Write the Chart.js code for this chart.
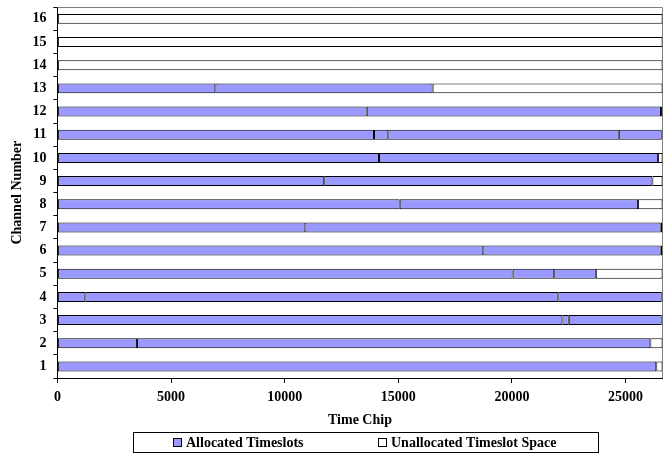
<!DOCTYPE html>
<html>
<head>
<meta charset="utf-8">
<script src="https://cdn.jsdelivr.net/npm/chart.js@4.4.0/dist/chart.umd.min.js"></script>
<style>
  html, body { margin: 0; padding: 0; background: #fff; }
  #wrap { width: 670px; height: 457px; }
</style>
</head>
<body>
<div id="wrap"><canvas id="chart"></canvas></div>
<script>
const channels = ['1', '2', '3', '4', '5', '6', '7', '8', '9', '10', '11', '12', '13', '14', '15', '16'];
const frameLength = 26624;
const xTickValues = [0, 5000, 10000, 15000, 20000, 25000];
const legendLabels = ['Allocated Timeslots', 'Unallocated Timeslot Space'];

// end chip of each allocated timeslot, per channel (slots are back to back from 0)
const ch1 = [26350];
const ch2 = [3500, 26090];
const ch3 = [22220, 22500, 26590, 26624];
const ch4 = [1230, 22040, 26590, 26624];
const ch5 = [20030, 21860, 23690];
const ch6 = [18740, 26545];
const ch7 = [10910, 26545];
const ch8 = [15060, 25550];
const ch9 = [11740, 26180];
const ch10 = [14150, 26430];
const ch11 = [13930, 14560, 24700, 26590, 26624];
const ch12 = [13610, 26560, 26624];
const ch13 = [6950, 16510];
const ch14 = [];
const ch15 = [];
const ch16 = [];
const allocatedEnds = [ch1, ch2, ch3, ch4, ch5, ch6, ch7, ch8, ch9, ch10, ch11, ch12, ch13, ch14, ch15, ch16];

const BLUE = '#9999ff';
const FONT = { family: "'Liberation Serif', 'Times New Roman', serif", size: 14, weight: 'bold' };

function buildDatasets() {
  const maxSlots = Math.max(...allocatedEnds.map(e => e.length));
  const sets = [];
  for (let k = 0; k < maxSlots; k++) {
    sets.push({
      label: legendLabels[0],
      data: allocatedEnds.map(ends => k < ends.length ? [k === 0 ? 0 : ends[k - 1], ends[k]] : null),
      backgroundColor: BLUE
    });
  }
  sets.push({
    label: legendLabels[1],
    data: allocatedEnds.map(ends => {
      const start = ends.length ? ends[ends.length - 1] : 0;
      return start < frameLength ? [start, frameLength] : null;
    }),
    backgroundColor: '#ffffff'
  });
  sets.forEach(s => {
    s.borderColor = '#000';
    // no border for empty (null) entries, they would leave a stray line at 0
    s.borderWidth = ctx => (ctx.raw ? 1 : 0);
    s.borderSkipped = false;
    s.grouped = false;
    s.barPercentage = 0.43;
    s.categoryPercentage = 1;
  });
  return sets;
}

// grey frame on the top and right of the plot area
const plotFrame = {
  id: 'plotFrame',
  beforeDatasetsDraw(chart) {
    const { ctx, chartArea: a } = chart;
    ctx.save();
    ctx.strokeStyle = '#808080';
    ctx.lineWidth = 1;
    ctx.beginPath();
    ctx.moveTo(a.left, Math.round(a.top) + 0.5);
    ctx.lineTo(Math.round(a.right) - 0.5, Math.round(a.top) + 0.5);
    ctx.lineTo(Math.round(a.right) - 0.5, a.bottom);
    ctx.stroke();
    ctx.restore();
  }
};

// boxed legend like the original spreadsheet chart
const boxLegend = {
  id: 'boxLegend',
  afterDraw(chart) {
    const ctx = chart.ctx;
    const left = 133.5, right = 598.5, top = 432.5, bottom = 452.5;
    const midY = (top + bottom) / 2;
    ctx.save();
    ctx.strokeStyle = '#000';
    ctx.lineWidth = 1;
    ctx.strokeRect(left, top, right - left, bottom - top);
    ctx.font = `${FONT.weight} ${FONT.size}px ${FONT.family}`;
    ctx.textBaseline = 'middle';
    const items = [
      { x: 173, fill: BLUE, text: legendLabels[0] },
      { x: 378, fill: '#ffffff', text: legendLabels[1] }
    ];
    items.forEach(it => {
      ctx.fillStyle = it.fill;
      ctx.fillRect(it.x, midY - 4.5, 9, 9);
      ctx.strokeRect(it.x + 0.5, midY - 4, 8, 8);
      ctx.fillStyle = '#000';
      ctx.fillText(it.text, it.x + 13, midY + 1);
    });
    ctx.restore();
  }
};

new Chart(document.getElementById('chart'), {
  type: 'bar',
  data: { labels: channels, datasets: buildDatasets() },
  options: {
    indexAxis: 'y',
    responsive: true,
    maintainAspectRatio: false,
    animation: false,
    layout: { padding: { top: 0, right: 7.5, bottom: 28, left: 0 } },
    plugins: {
      legend: { display: false },
      tooltip: { enabled: false }
    },
    scales: {
      x: {
        type: 'linear',
        min: 0,
        max: frameLength,
        afterBuildTicks: scale => {
          scale.ticks = xTickValues.map(v => ({ value: v }));
        },
        afterFit: scale => { scale.height = 51; },
        grid: { drawOnChartArea: false, drawTicks: true, tickLength: 5, color: '#000' },
        border: { color: '#000', width: 1 },
        ticks: { color: '#000', font: FONT, padding: 6, maxRotation: 0, callback: v => String(v) },
        title: { display: true, text: 'Time Chip', color: '#000', font: FONT, padding: { top: 4, bottom: 0 } }
      },
      y: {
        type: 'category',
        reverse: true,
        afterFit: scale => {
          scale.width = 57.4;
          // labels sit between grid lines, so the plot can reach the top edge
          scale.paddingTop = 7.3;
          scale.paddingBottom = 0;
        },
        grid: { drawOnChartArea: false, drawTicks: true, tickLength: 4, offset: true, color: '#000' },
        border: { color: '#000', width: 1 },
        ticks: { color: '#000', font: FONT, padding: 7 },
        title: { display: true, text: 'Channel Number', color: '#000', font: FONT, padding: { top: 9, bottom: 0 } }
      }
    }
  },
  plugins: [plotFrame, boxLegend]
});
</script>
</body>
</html>
